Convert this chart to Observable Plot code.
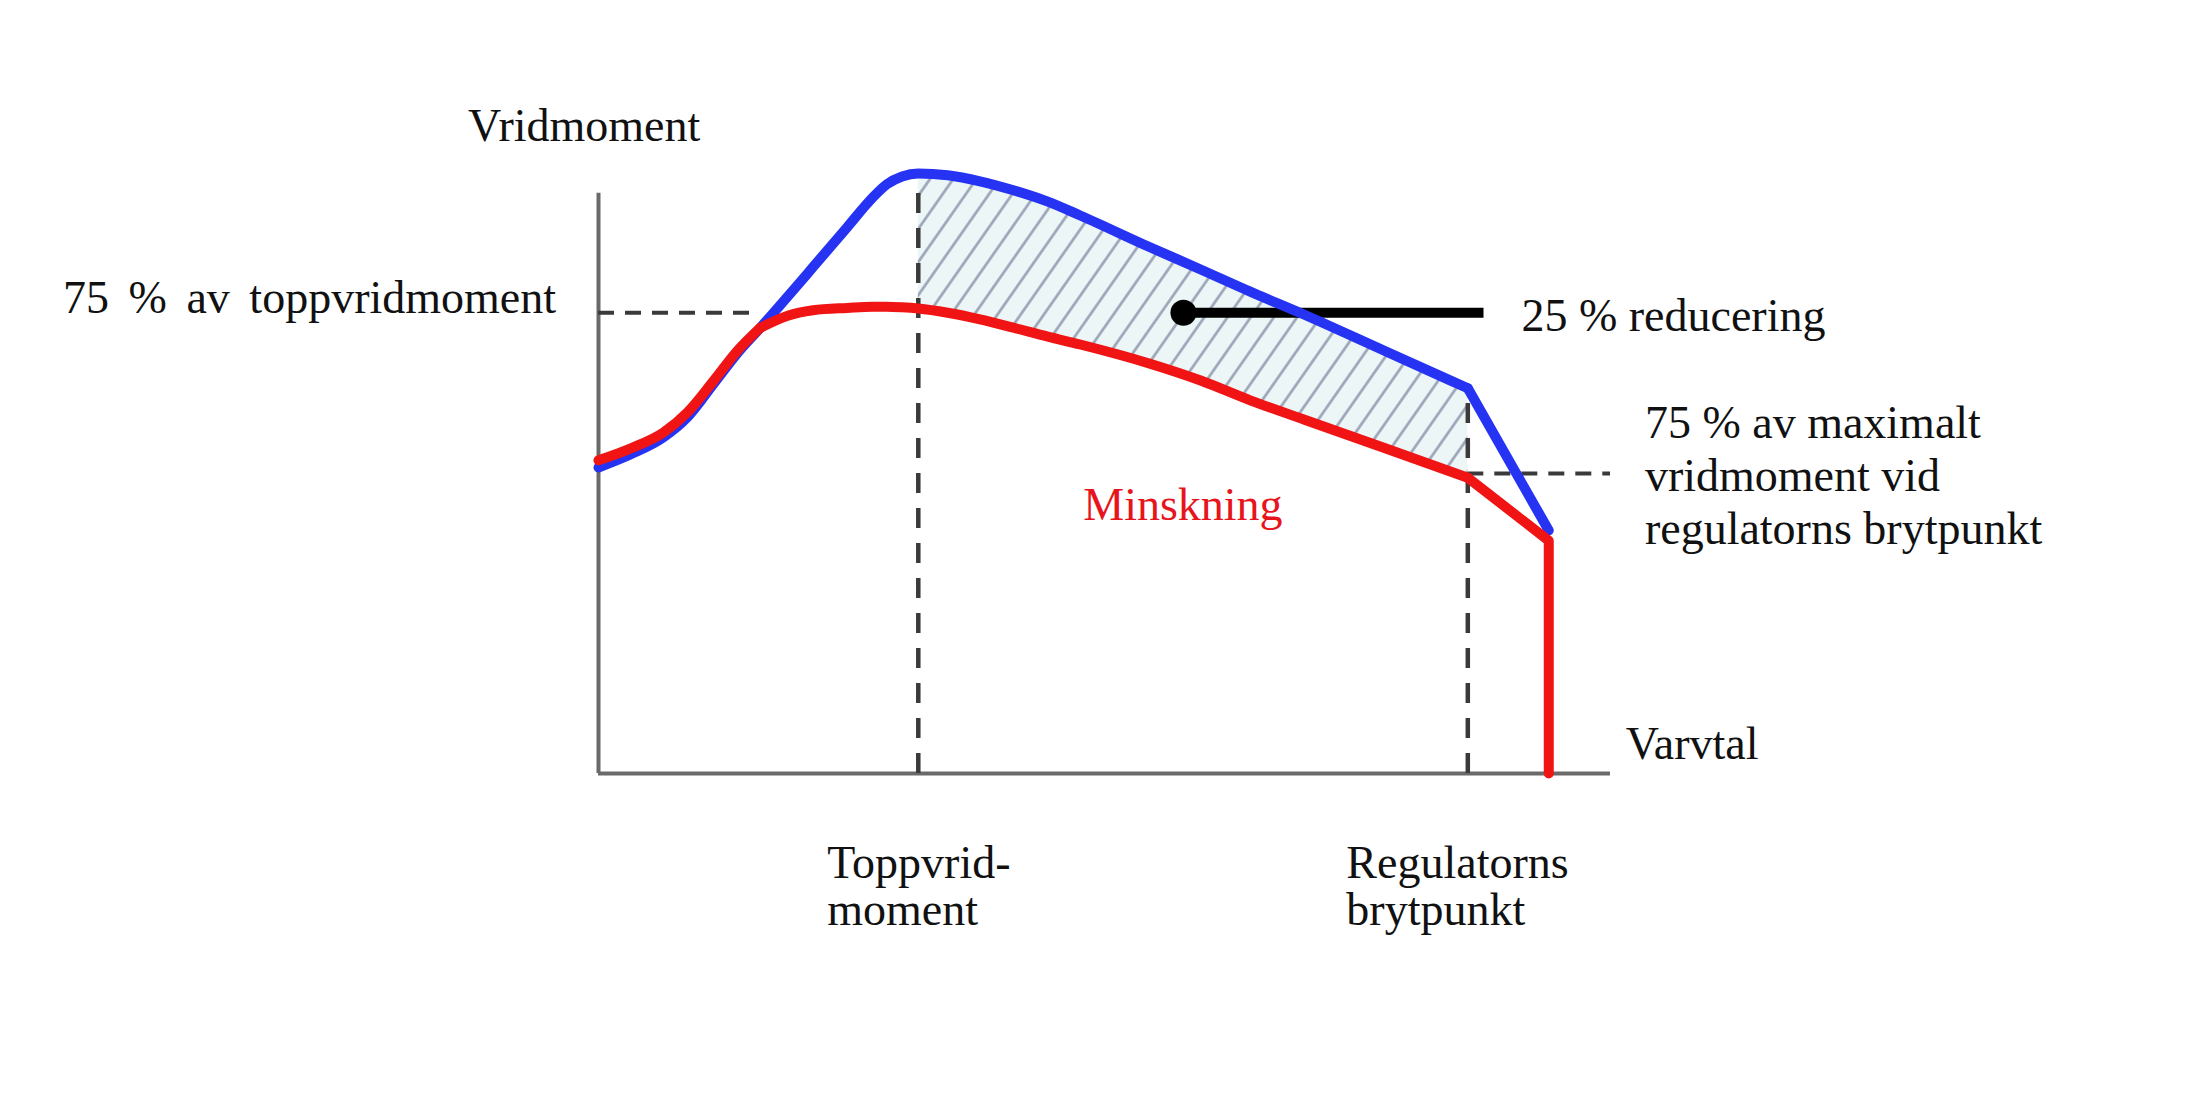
<!DOCTYPE html>
<html>
<head>
<meta charset="utf-8">
<script src="https://cdn.jsdelivr.net/npm/d3@7"></script>
<script src="https://cdn.jsdelivr.net/npm/@observablehq/plot@0.6"></script>
<style>
  html, body { margin: 0; padding: 0; background: #ffffff; }
  #chart svg { display: block; }
</style>
</head>
<body>
<div id="chart"></div>
<script>
// ---- Data (speed in % of axis length, torque in % of peak torque) ----
const speed          = [0,    3.2,  6.4,  8.8,  11.4, 13.7, 16,   18.7, 21.2, 24.6, 27.1, 28.5, 30,   31.6, 34.5, 37.7, 41,   44.4, 47.6, 54.5, 59.5, 64.4, 69.7, 77.6, 85.9, 93.9];
const fullTorque     = [51,   53.2, 56,   59.4, 65,   70,   74.3, 79.5, 84.4, 91.1, 96,   98.2, 99.5, 100,  99.7, 98.7, 97.2, 95.3, 93,   87.7, 84,   80.3, 76.5, 70.5, 64.2, 40.5];
const reducedTorque  = [52.2, 54.2, 56.8, 60.2, 65.5, 70.4, 74.3, 76.3, 77.2, 77.6, 77.8, 77.8, 77.7, 77.5, 76.8, 75.7, 74.3, 72.8, 71.5, 68.3, 65.5, 62.2, 59,   54.3, 49.3, 38.8];

const joinSpeed          = 16;     // where the reduced curve leaves the full curve
const peakTorqueSpeed    = 31.6;   // Toppvridmoment
const governorBreakSpeed = 85.9;   // Regulatorns brytpunkt
const cutoffSpeed        = 93.9;   // red curve drops to zero
const topLevel75         = 76.8;   // 75 % av toppvridmoment
const breakLevel75       = 50;     // 75 % av maximalt vridmoment vid regulatorns brytpunkt
const pointerSpan        = [57.8, 87.5];
const pointerLevel       = 76.8;
const axisX              = [0, 100];
const axisY              = [0, 96.7];

const labels = [
  {text: "Vridmoment",             x: -12.9, y: 105.5, anchor: "start", color: "#111", lh: 1},
  {text: "75 % av toppvridmoment", x: -4.2,  y: 76.7,  anchor: "end",   color: "#111", lh: 1},
  {text: "25 % reducering",        x: 91.2,  y: 73.8,  anchor: "start", color: "#111", lh: 1},
  {text: "75 % av maximalt\nvridmoment vid\nregulatorns brytpunkt", x: 103.4, y: 38.3, anchor: "start", color: "#111", lh: 1.15},
  {text: "Minskning",              x: 47.9,  y: 42.2,  anchor: "start", color: "#e8141c", lh: 1},
  {text: "Varvtal",                x: 101.5, y: 2.5,   anchor: "start", color: "#111", lh: 1},
  {text: "Toppvrid-\nmoment",      x: 22.6,  y: -25.3, anchor: "start", color: "#111", lh: 1.02},
  {text: "Regulatorns\nbrytpunkt", x: 73.9,  y: -25.3, anchor: "start", color: "#111", lh: 1.02}
];

// ---- Build tables ----
const rows = speed.map((s, i) => ({speed: s, full: fullTorque[i], reduced: reducedTorque[i]}));
// segments (corners kept sharp at the segment joints)
const blueSegs = [
  ...rows.filter(d => d.speed <= governorBreakSpeed).map(d => ({...d, seg: "a"})),
  ...rows.filter(d => d.speed >= governorBreakSpeed).map(d => ({...d, seg: "b"}))
];
const redSegs = [
  ...rows.filter(d => d.speed <= joinSpeed).map(d => ({...d, seg: "a"})),
  ...rows.filter(d => d.speed >= joinSpeed && d.speed <= governorBreakSpeed).map(d => ({...d, seg: "b"}))
];
const redTail = rows.filter(d => d.speed >= governorBreakSpeed).map(d => ({speed: d.speed, torque: d.reduced}))
  .concat([{speed: cutoffSpeed, torque: 0}]);
const hatched = rows.filter(d => d.speed >= peakTorqueSpeed && d.speed <= governorBreakSpeed);

const FONT = "'Liberation Serif', 'Times New Roman', serif";
const textMarks = labels.map(l => Plot.text([l], {
  x: "x", y: "y", text: "text",
  textAnchor: l.anchor, lineAnchor: "bottom", lineHeight: l.lh,
  fontSize: 46, fontFamily: FONT, fill: l.color
}));

const BLUE = "#2633f2", RED = "#f01414";

const svg = Plot.plot({
  width: 2206,
  height: 1102,
  marginLeft: 598,
  marginRight: 596,
  marginTop: 173,
  marginBottom: 329,
  x: {domain: [0, 100], axis: null},
  y: {domain: [0, 100], axis: null},
  style: {background: "#ffffff", overflow: "visible"},
  marks: [
    // hatched reduction area
    Plot.areaY(hatched, {x: "speed", y1: "reduced", y2: "full", fill: "url(#hatch)", curve: "monotone-x"}),
    // axes
    Plot.ruleX([axisY[0]], {x: 0, y1: axisY[0], y2: axisY[1], stroke: "#6a6a6a", strokeWidth: 4}),
    Plot.ruleY([0], {y: 0, x1: axisX[0], x2: axisX[1], stroke: "#6a6a6a", strokeWidth: 4}),
    // dashed reference lines
    Plot.ruleY([topLevel75], {x1: 0, x2: joinSpeed, stroke: "#3a3a3a", strokeWidth: 4, strokeDasharray: "16 11"}),
    Plot.ruleY([breakLevel75], {x1: governorBreakSpeed, x2: 100, stroke: "#3a3a3a", strokeWidth: 4, strokeDasharray: "16 11"}),
    Plot.ruleX([peakTorqueSpeed], {y1: 0, y2: 100, stroke: "#3a3a3a", strokeWidth: 4.5, strokeDasharray: "20 15"}),
    Plot.ruleX([governorBreakSpeed], {y1: 0, y2: 64.2, stroke: "#3a3a3a", strokeWidth: 4.5, strokeDasharray: "20 15"}),
    // pointer for "25 % reducering"
    Plot.ruleY([pointerLevel], {x1: pointerSpan[0], x2: pointerSpan[1], stroke: "#000", strokeWidth: 10}),
    Plot.dot([{x: pointerSpan[0], y: pointerLevel}], {x: "x", y: "y", r: 13, fill: "#000", stroke: "none"}),
    // curves
    Plot.line(blueSegs, {x: "speed", y: "full", z: "seg", stroke: BLUE, strokeWidth: 10, curve: "monotone-x", strokeLinejoin: "round", strokeLinecap: "round"}),
    Plot.line(redSegs, {x: "speed", y: "reduced", z: "seg", stroke: RED, strokeWidth: 10, curve: "monotone-x", strokeLinejoin: "round", strokeLinecap: "round"}),
    Plot.line(redTail, {x: "speed", y: "torque", stroke: RED, strokeWidth: 10, curve: "linear", strokeLinejoin: "round"}),
    ...textMarks
  ]
});

// hatch pattern definition
const defs = d3.select(svg).insert("defs", ":first-child");
const pat = defs.append("pattern")
  .attr("id", "hatch")
  .attr("patternUnits", "userSpaceOnUse")
  .attr("width", 19).attr("height", 19)
  .attr("patternTransform", "rotate(35)");
pat.append("rect").attr("width", 19).attr("height", 19).attr("fill", "#edf6f7");
pat.append("line").attr("x1", 9.5).attr("y1", 0).attr("x2", 9.5).attr("y2", 19)
  .attr("stroke", "#98a3b6").attr("stroke-width", 2.6);

// wider word gaps in the left label, as in the original
d3.select(svg).selectAll("text")
  .filter(function () { return this.textContent === labels[1].text; })
  .style("word-spacing", "8px");

document.getElementById("chart").appendChild(svg);
</script>
</body>
</html>
